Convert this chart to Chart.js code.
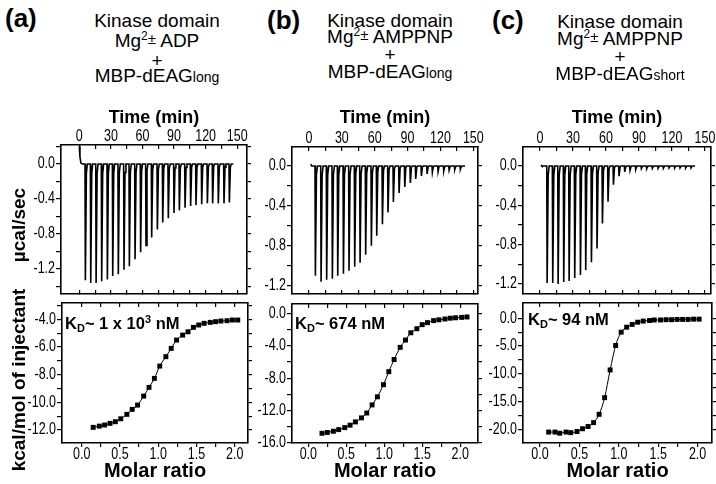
<!DOCTYPE html>
<html><head><meta charset="utf-8">
<script src="https://cdn.jsdelivr.net/npm/chart.js@4.4.1/dist/chart.umd.min.js"></script>
<style>
html,body{margin:0;padding:0;background:#fff;}
#root{position:relative;width:716px;height:484px;overflow:hidden;font-family:'Liberation Sans',Arial,sans-serif;color:#000;background:#fff;}
canvas{position:absolute;}
.line{position:absolute;width:240px;text-align:center;font-size:19px;line-height:19px;white-space:nowrap;}
.lab{position:absolute;font-weight:bold;font-size:26px;line-height:26px;}
.kd{position:absolute;font-weight:bold;font-size:16.5px;line-height:16px;white-space:nowrap;}
.yt{position:absolute;font-weight:bold;font-size:19px;line-height:22px;height:22px;text-align:center;transform:rotate(-90deg);white-space:nowrap;}
.s2{position:relative;top:-7px;font-size:12px;}
.pm{position:relative;top:-3px;font-size:15px;}
.sm{font-size:14px;}
.sub{position:relative;top:3px;font-size:11px;}
.sup{position:relative;top:-6px;font-size:11px;}
</style></head><body><div id="root"></div>
<script>
// ---------- tick values ----------
const timeMajor = [0, 30, 60, 90, 120, 150];
const timeMinor = [15, 45, 75, 105, 135];
const rawMajor = [0, -0.4, -0.8, -1.2];
const rawMinor = [0.2, -0.2, -0.6, -1.0, -1.4];
const ratioMajor = [0, 0.5, 1.0, 1.5, 2.0];
const ratioMinor = [0.25, 0.75, 1.25, 1.75];
const heatMajorA = [-4, -6, -8, -10, -12];
const heatMinorA = [-3, -5, -7, -9, -11];
const heatMajorB = [0, -4, -8, -12, -16];
const heatMinorB = [-2, -6, -10, -14];
const heatMajorC = [0, -5, -10, -15, -20];
const heatMinorC = [-2.5, -7.5, -12.5, -17.5];

// ---------- raw ITC traces (injection time in min, peak in µcal/sec) ----------
const rawStartA = [[0, 0.2], [0.6, 0.08], [1.5, 0.01], [3, 0]];
const rawTimesA = [5.4,10.5,15.6,20.9,26.3,31.4,36.7,42.1,47.2,52.6,57.9,63.0,68.4,73.8,78.9,84.2,89.6,94.7,100.1,105.4,110.5,115.9,121.3,126.3,131.7,137.1,142.2];
const rawPeaksA = [-1.33,-1.36,-1.36,-1.34,-1.32,-1.28,-1.26,-1.21,-1.17,-1.09,-1.01,-0.93,-0.84,-0.75,-0.67,-0.62,-0.56,-0.53,-0.50,-0.48,-0.47,-0.46,-0.45,-0.45,-0.45,-0.45,-0.44];
const rawEndA = 146.3;

const rawStartB = [[1.8, 0.02], [2.3, 0]];
const rawTimesB = [5.5,10.7,15.8,21.0,25.9,31.1,36.2,41.4,46.3,51.4,56.6,61.5,66.7,71.8,76.7,81.9,87.1,92.2,97.1,102.3,107.5,112.3,117.5,122.7,127.6,132.7,137.9];
const rawPeaksB = [-1.10,-1.16,-1.14,-1.13,-1.10,-1.08,-1.05,-1.01,-0.97,-0.89,-0.80,-0.70,-0.585,-0.465,-0.36,-0.27,-0.21,-0.17,-0.13,-0.10,-0.08,-0.064,-0.057,-0.05,-0.043,-0.037,-0.033];
const rawEndB = 142.5;

const rawStartC = [[0.9, 0.01], [1.6, 0]];
const rawTimesC = [6.1,11.2,16.1,21.2,26.1,31.2,36.4,41.2,46.4,51.5,56.4,61.5,66.4,71.5,76.7,81.5,86.7,91.8,96.7,101.8,107.0,111.8,117.0,122.1,127.0,132.1,137.0];
const rawPeaksC = [-1.19,-1.19,-1.20,-1.18,-1.17,-1.14,-1.11,-1.06,-0.98,-0.84,-0.585,-0.365,-0.19,-0.105,-0.06,-0.044,-0.034,-0.027,-0.027,-0.024,-0.024,-0.024,-0.02,-0.02,-0.02,-0.02,-0.02];
const rawEndC = 141;

// ---------- integrated heats (molar ratio, kcal/mol of injectant) ----------
const ratioA = [0.15,0.23,0.30,0.37,0.44,0.51,0.59,0.66,0.73,0.81,0.88,0.95,1.02,1.10,1.17,1.24,1.32,1.39,1.46,1.53,1.60,1.68,1.75,1.82,1.90,1.97,2.04];
const heatA = [-11.81,-11.72,-11.64,-11.52,-11.40,-11.19,-10.87,-10.51,-10.20,-9.55,-8.92,-8.27,-7.38,-6.70,-6.10,-5.50,-5.14,-4.90,-4.58,-4.41,-4.29,-4.22,-4.17,-4.12,-4.10,-4.05,-4.05];

const ratioB = [0.18,0.25,0.33,0.40,0.48,0.55,0.62,0.70,0.77,0.84,0.91,0.99,1.06,1.13,1.21,1.28,1.35,1.43,1.50,1.57,1.65,1.72,1.80,1.87,1.94,2.02,2.09];
const heatB = [-14.8,-14.7,-14.55,-14.35,-14.1,-13.8,-13.4,-12.9,-12.3,-11.3,-10.3,-8.8,-7.2,-5.7,-4.2,-3.3,-2.4,-1.9,-1.4,-1.15,-0.9,-0.8,-0.7,-0.6,-0.55,-0.5,-0.45];

const ratioC = [0.11,0.19,0.25,0.33,0.39,0.47,0.54,0.61,0.68,0.75,0.82,0.89,0.96,1.03,1.10,1.17,1.24,1.31,1.39,1.45,1.53,1.60,1.67,1.74,1.81,1.88,1.95,2.02];
const heatC = [-20.5,-20.5,-20.7,-20.5,-20.6,-20.4,-19.9,-19.5,-18.8,-17.3,-14.3,-9.3,-4.9,-2.5,-1.6,-1.1,-0.7,-0.5,-0.4,-0.3,-0.3,-0.25,-0.25,-0.2,-0.2,-0.2,-0.15,-0.15];

// ---------- helpers ----------
const NARROW = "'Liberation Sans Narrow','Arial Narrow','Liberation Sans',Arial,sans-serif";
const BOLD = "'Liberation Sans',Arial,sans-serif";
const root = document.getElementById('root');

// tick labels in the reference use a narrow face; condense them horizontally
const condense = {
  id: 'condense',
  beforeDraw(chart) {
    const ctx = chart.ctx;
    if (ctx._condensed) return;
    const orig = ctx.fillText;
    ctx.fillText = function (text, x, y, maxWidth) {
      if (String(this.font).indexOf('Narrow') >= 0) {
        this.save();
        this.translate(x, y);
        this.scale(0.78, 1);
        orig.call(this, text, 0, 0);
        this.restore();
      } else if (maxWidth === undefined) {
        orig.call(this, text, x, y);
      } else {
        orig.call(this, text, x, y, maxWidth);
      }
    };
    ctx._condensed = true;
  }
};

function trace(start, times, peaks, end) {
  const pts = start.map(p => ({x: p[0], y: p[1]}));
  times.forEach((t, i) => {
    pts.push({x: t, y: 0}, {x: t + 0.35, y: peaks[i]}, {x: t + 1.3, y: peaks[i] * 0.08}, {x: t + 2.2, y: 0});
  });
  pts.push({x: end, y: 0});
  return pts;
}
function pairs(xs, ys) { return xs.map((x, i) => ({x: x, y: ys[i]})); }

function mkAxis(position, min, max, major, minor, o) {
  const all = major.concat(minor).sort((a, b) => a - b);
  const horiz = position === 'top' || position === 'bottom';
  return {
    type: 'linear', position: position, min: min, max: max, bounds: 'data',
    afterBuildTicks: s => { s.ticks = all.filter(v => v >= min - 1e-9 && v <= max + 1e-9).map(v => ({value: v})); },
    afterFit: s => {
      if (horiz) s.height = o.size; else s.width = o.size;
      s.paddingTop = 0; s.paddingBottom = 0; s.paddingLeft = 0; s.paddingRight = 0;
    },
    ticks: {
      display: !!o.labels, autoSkip: false, maxRotation: 0, minRotation: 0,
      padding: o.pad || 0, color: '#000',
      font: {family: NARROW, size: 16, lineHeight: 1},
      callback: v => major.some(m => Math.abs(m - v) < 1e-9) ? o.fmt(v) : ''
    },
    grid: {display: true, drawOnChartArea: false, drawTicks: true, tickLength: o.tl,
      color: '#000', tickColor: '#000', lineWidth: 1.2},
    border: {display: true, color: '#000', width: 1.6},
    title: o.title ? {display: true, text: o.title, color: '#000',
      font: {family: BOLD, size: o.tsize, weight: 'bold', lineHeight: 1.2}, padding: o.tpad} : {display: false}
  };
}
const fmtInt = v => String(Math.round(v));
const fmt1 = v => (Math.abs(v) < 1e-9 ? 0 : v).toFixed(1);

function makeChart(box, isTop, xr, yr, yMajor, yMinor, datasets) {
  const L = 50, R = 6;
  const T = isTop ? box.t - 98 : 5;
  const B = isTop ? 5 : 484 - box.b;
  const W = box.r - box.l + L + R, H = box.b - box.t + T + B;
  const c = document.createElement('canvas');
  c.width = W; c.height = H;
  c.style.left = (box.l - L) + 'px'; c.style.top = (box.t - T) + 'px';
  c.style.width = W + 'px'; c.style.height = H + 'px';
  root.appendChild(c);
  const scales = {};
  if (isTop) {
    scales.x = mkAxis('top', xr[0], xr[1], timeMajor, timeMinor,
      {size: T, tl: -4, pad: 4, labels: true, fmt: fmtInt, title: 'Time (min)', tsize: 18, tpad: {top: 9.2, bottom: 0}});
    scales.x2 = mkAxis('bottom', xr[0], xr[1], timeMajor, timeMinor, {size: B, tl: -4, labels: false, fmt: fmtInt});
  } else {
    scales.x = mkAxis('bottom', xr[0], xr[1], ratioMajor, ratioMinor,
      {size: B, tl: 4, pad: -0.5, labels: true, fmt: fmt1, title: 'Molar ratio', tsize: 20, tpad: {top: 0, bottom: 1}});
    scales.x2 = mkAxis('top', xr[0], xr[1], ratioMajor, ratioMinor, {size: T, tl: -4, labels: false, fmt: fmt1});
  }
  scales.y = mkAxis('left', yr[0], yr[1], yMajor, yMinor, {size: L, tl: 5, pad: 1, labels: true, fmt: fmt1});
  scales.y2 = mkAxis('right', yr[0], yr[1], yMajor, yMinor, {size: R, tl: 4, labels: false, fmt: fmt1});
  new Chart(c, {
    type: 'line',
    data: {datasets: datasets},
    plugins: [condense],
    options: {
      responsive: false, animation: false, devicePixelRatio: 1, events: [],
      layout: {padding: 0},
      plugins: {legend: {display: false}, tooltip: {enabled: false}},
      scales: scales
    }
  });
}
function rawDs(pts) {
  return {data: pts, borderColor: '#000', borderWidth: 1.6, pointRadius: 0, tension: 0, fill: false};
}
function fitDs(pts) {
  return {data: pts, borderColor: '#000', borderWidth: 1, pointStyle: 'rect', pointRadius: 3.5,
    pointBackgroundColor: '#000', pointBorderColor: '#000', pointBorderWidth: 0,
    cubicInterpolationMode: 'monotone', fill: false};
}

// ---------- panels ----------
makeChart({l: 61, t: 145, r: 247, b: 294}, true, [-17.4, 159.3], [-1.486, 0.217], rawMajor, rawMinor,
  [rawDs(trace(rawStartA, rawTimesA, rawPeaksA, rawEndA))]);
makeChart({l: 62, t: 303, r: 248, b: 443}, false, [-0.258, 2.174], [-12.94, -2.82], heatMajorA, heatMinorA,
  [fitDs(pairs(ratioA, heatA))]);

makeChart({l: 292, t: 147, r: 478, b: 294}, true, [-15.5, 154.3], [-1.283, 0.19], rawMajor, rawMinor,
  [rawDs(trace(rawStartB, rawTimesB, rawPeaksB, rawEndB))]);
makeChart({l: 292, t: 304, r: 478, b: 443}, false, [-0.215, 2.235], [-16.0, 1.15], heatMajorB, heatMinorB,
  [fitDs(pairs(ratioB, heatB))]);

makeChart({l: 523, t: 147, r: 711, b: 294}, true, [-15.5, 155.5], [-1.303, 0.193], rawMajor, rawMinor,
  [rawDs(trace(rawStartC, rawTimesC, rawPeaksC, rawEndC))]);
makeChart({l: 523, t: 303, r: 712, b: 443}, false, [-0.216, 2.183], [-22.47, 2.76], heatMajorC, heatMinorC,
  [fitDs(pairs(ratioC, heatC))]);

// ---------- text ----------
const texts = `
<div class="lab" style="left:5px;top:5px">(a)</div>
<div class="line" style="left:37px;top:11px">Kinase domain</div>
<div class="line" style="left:37px;top:31px">Mg<span class="s2">2</span><span class="pm">±</span> ADP</div>
<div class="line" style="left:37px;top:51px">+</div>
<div class="line" style="left:37px;top:66px">MBP-dEAG<span class="sm">long</span></div>

<div class="lab" style="left:267px;top:7px">(b)</div>
<div class="line" style="left:270px;top:11px">Kinase domain</div>
<div class="line" style="left:270px;top:27px">Mg<span class="s2">2</span><span class="pm">±</span> AMPPNP</div>
<div class="line" style="left:270px;top:45px">+</div>
<div class="line" style="left:270px;top:62px">MBP-dEAG<span class="sm">long</span></div>

<div class="lab" style="left:492px;top:7px">(c)</div>
<div class="line" style="left:500px;top:12px">Kinase domain</div>
<div class="line" style="left:500px;top:29px">Mg<span class="s2">2</span><span class="pm">±</span> AMPPNP</div>
<div class="line" style="left:500px;top:47px">+</div>
<div class="line" style="left:500px;top:64px">MBP-dEAG<span class="sm">short</span></div>

<div class="yt" style="left:-31px;top:214px;width:100px">µcal/sec</div>
<div class="yt" style="left:-81px;top:369px;width:200px">kcal/mol of injectant</div>

<div class="kd" style="left:65px;top:315px">K<span class="sub">D</span>~ 1 x 10<span class="sup">3</span> nM</div>
<div class="kd" style="left:295px;top:315px">K<span class="sub">D</span>~ 674 nM</div>
<div class="kd" style="left:528px;top:311px">K<span class="sub">D</span>~ 94 nM</div>
`;
const holder = document.createElement('div');
holder.innerHTML = texts;
while (holder.firstChild) root.appendChild(holder.firstChild);
</script>
</body></html>
